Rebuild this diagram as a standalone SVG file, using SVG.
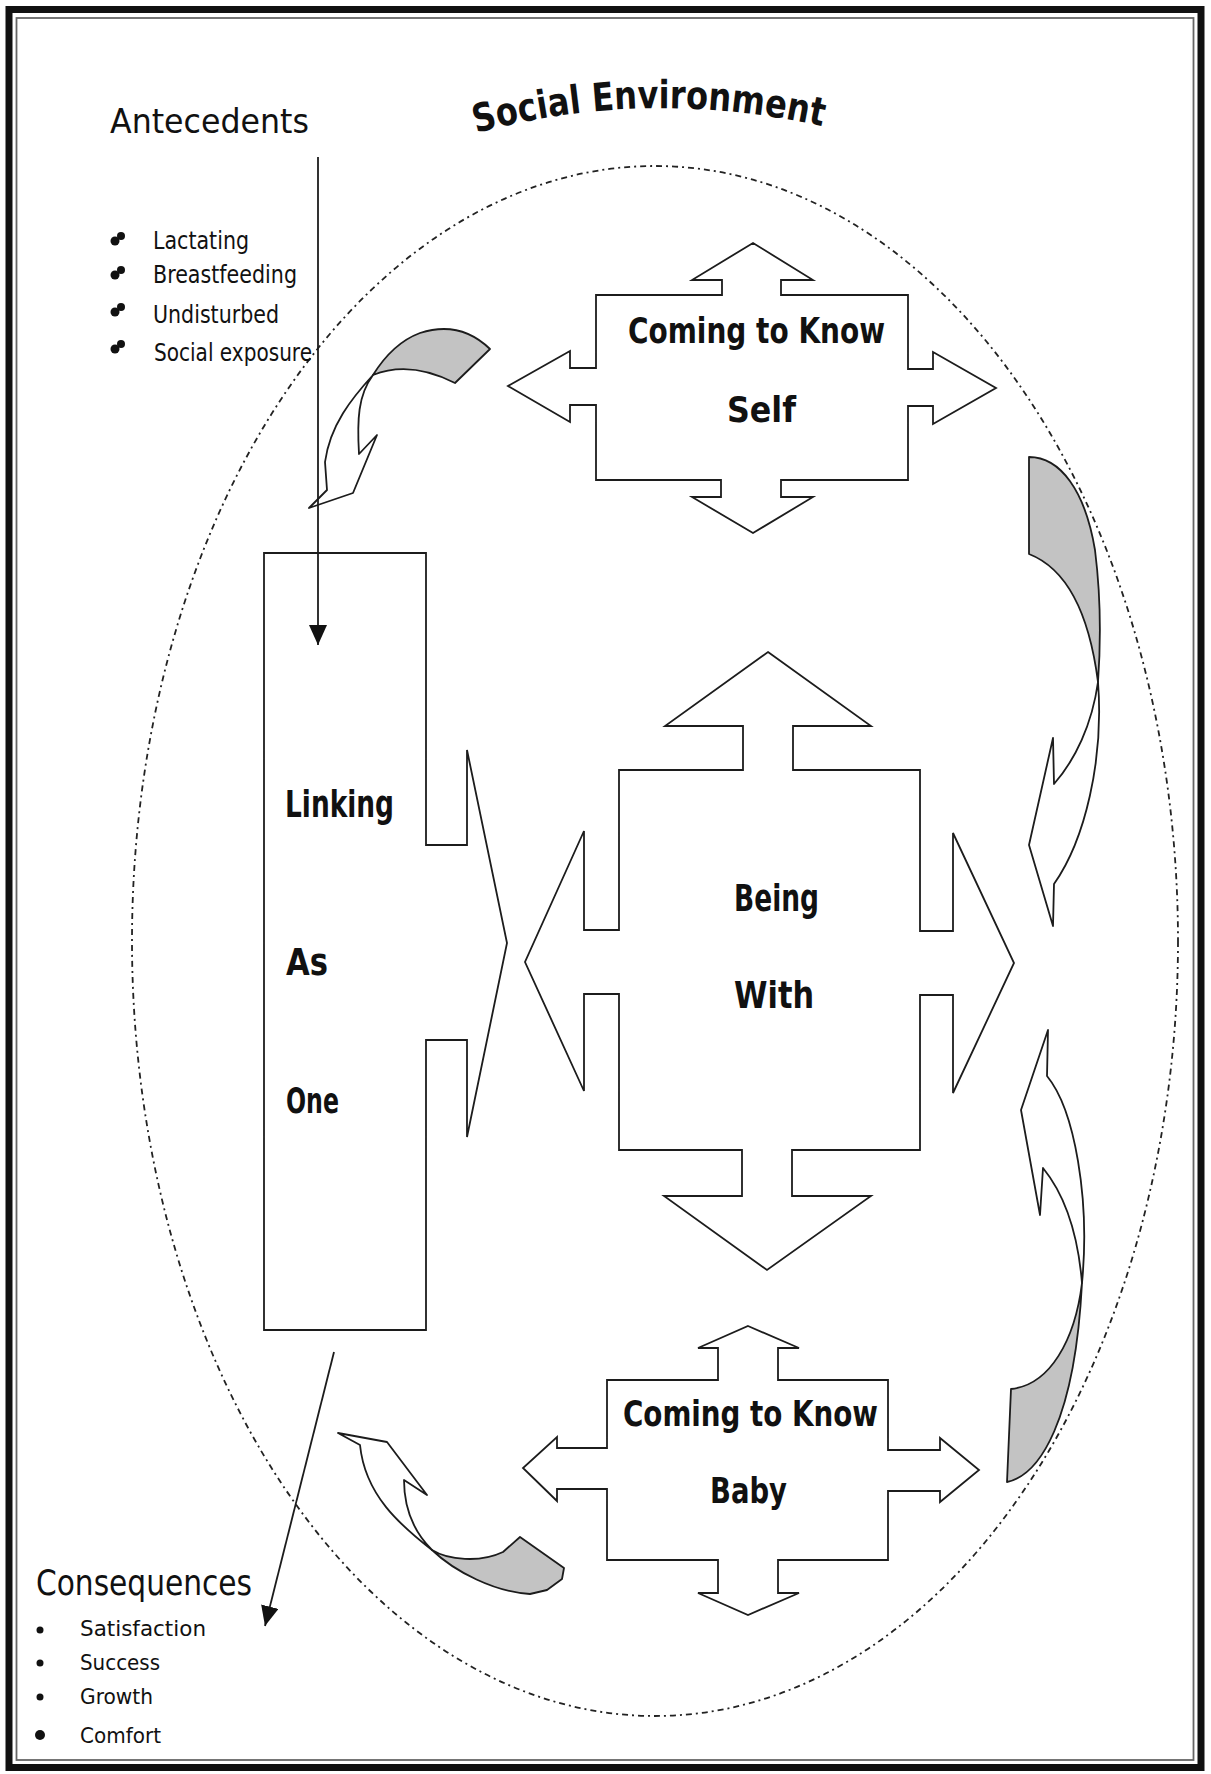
<svg xmlns="http://www.w3.org/2000/svg" width="1211" height="1774" viewBox="0 0 1211 1774">
  <defs>
    <style>
      .shape { fill: #ffffff; stroke: #1c1c1c; stroke-width: 1.8; stroke-linejoin: miter; }
      .tail { fill: #c3c3c3; stroke: #1c1c1c; stroke-width: 1.8; stroke-linejoin: round; }
      .body { fill: #ffffff; stroke: #1c1c1c; stroke-width: 1.8; stroke-linejoin: round; }
      .lbl { font-family: 'DejaVu Sans', 'Liberation Sans', sans-serif; font-weight: bold; fill: #111111; }
      .note { font-family: 'DejaVu Sans', 'Liberation Sans', sans-serif; fill: #111111; }
      .link { stroke: #1c1c1c; stroke-width: 1.8; fill: none; }
      .dot { fill: #111111; }
    </style>
    <marker id="head" viewBox="0 0 20 18" refX="20" refY="9" markerWidth="20" markerHeight="18" markerUnits="userSpaceOnUse" orient="auto">
      <path d="M0,0 L20,9 L0,18 Z" fill="#111111"/>
    </marker>
  </defs>

  <rect width="1211" height="1774" fill="#ffffff"/>

  <!-- page frame: heavy outer rule with a thin inner rule -->
  <g id="frame">
    <rect x="9" y="9.5" width="1192" height="1758" fill="none" stroke="#111111" stroke-width="7"/>
    <rect x="16.5" y="18" width="1177" height="1742" fill="none" stroke="#666666" stroke-width="1.8"/>
  </g>

  <!-- social environment boundary -->
  <g id="environment">
    <ellipse cx="655" cy="941" rx="523" ry="775" fill="none" stroke="#222222" stroke-width="1.8" stroke-dasharray="6 4 2 4"/>
    <path id="arc" d="M 476 133 Q 650 86 830 128" fill="none"/>
    <text class="lbl" font-size="39"><textPath href="#arc" textLength="350" lengthAdjust="spacingAndGlyphs">Social Environment</textPath></text>
  </g>

  <!-- antecedents list -->
  <g id="antecedents">
    <text class="note" x="110" y="133" font-size="34" textLength="199" lengthAdjust="spacingAndGlyphs">Antecedents</text>
    <g class="dot">
      <circle cx="115" cy="241" r="4.5"/><circle cx="121" cy="236" r="4"/>
      <circle cx="115" cy="275" r="4.5"/><circle cx="121" cy="270" r="4"/>
      <circle cx="115" cy="312" r="4.5"/><circle cx="121" cy="307" r="4"/>
      <circle cx="115" cy="349" r="4.5"/><circle cx="121" cy="344" r="4"/>
    </g>
    <text class="note" x="153" y="249" font-size="24" textLength="96" lengthAdjust="spacingAndGlyphs">Lactating</text>
    <text class="note" x="153" y="283" font-size="24" textLength="144" lengthAdjust="spacingAndGlyphs">Breastfeeding</text>
    <text class="note" x="153" y="323" font-size="24" textLength="126" lengthAdjust="spacingAndGlyphs">Undisturbed</text>
    <text class="note" x="154" y="361" font-size="24" textLength="158" lengthAdjust="spacingAndGlyphs">Social exposure</text>
  </g>

  <!-- consequences list -->
  <g id="consequences">
    <text class="note" x="36" y="1595" font-size="35" textLength="216" lengthAdjust="spacingAndGlyphs">Consequences</text>
    <g class="dot">
      <circle cx="40" cy="1630" r="3.5"/>
      <circle cx="40" cy="1663" r="3.5"/>
      <circle cx="40" cy="1697" r="3.5"/>
      <circle cx="40" cy="1735" r="5"/>
    </g>
    <text class="note" x="80" y="1636" font-size="22" textLength="126" lengthAdjust="spacingAndGlyphs">Satisfaction</text>
    <text class="note" x="80" y="1670" font-size="22" textLength="80" lengthAdjust="spacingAndGlyphs">Success</text>
    <text class="note" x="80" y="1704" font-size="22" textLength="73" lengthAdjust="spacingAndGlyphs">Growth</text>
    <text class="note" x="80" y="1743" font-size="22" textLength="81" lengthAdjust="spacingAndGlyphs">Comfort</text>
  </g>

  <!-- Coming to Know Self -->
  <g id="know-self">
    <polygon class="shape" points="753,243 813,280 781,280 781,295 908,295 908,369 933,369 933,352 996,388 933,424 933,406 908,406 908,480 781,480 781,497 813,497 753,533 692,497 721,497 721,480 596,480 596,405 570,405 570,422 508,386 570,351 570,368 596,368 596,295 722,295 722,280 692,280"/>
    <text class="lbl" x="628" y="343" font-size="35" textLength="257" lengthAdjust="spacingAndGlyphs">Coming to Know</text>
    <text class="lbl" x="727" y="422" font-size="36" textLength="69" lengthAdjust="spacingAndGlyphs">Self</text>
  </g>

  <!-- Being With -->
  <g id="being-with">
    <polygon class="shape" points="768,652 871,726 793,726 793,770 920,770 920,931 953,931 953,833 1014,963 953,1093 953,995 920,995 920,1150 792,1150 792,1196 871,1196 767,1270 664,1196 742,1196 742,1150 619,1150 619,994 584,994 584,1091 525,962 584,831 584,930 619,930 619,770 743,770 743,726 665,726"/>
    <text class="lbl" x="734" y="911" font-size="38" textLength="85" lengthAdjust="spacingAndGlyphs">Being</text>
    <text class="lbl" x="734" y="1008" font-size="38" textLength="80" lengthAdjust="spacingAndGlyphs">With</text>
  </g>

  <!-- Coming to Know Baby -->
  <g id="know-baby">
    <polygon class="shape" points="748,1326 799,1348 778,1348 778,1380 888,1380 888,1450 940,1450 940,1438 979,1470 940,1502 940,1491 888,1491 888,1560 778,1560 778,1593 799,1593 748,1615 698,1593 718,1593 718,1560 607,1560 607,1489 557,1489 557,1501 523,1468 557,1437 557,1448 607,1448 607,1380 718,1380 718,1348 698,1348"/>
    <text class="lbl" x="623" y="1426" font-size="35" textLength="255" lengthAdjust="spacingAndGlyphs">Coming to Know</text>
    <text class="lbl" x="710" y="1503" font-size="36" textLength="77" lengthAdjust="spacingAndGlyphs">Baby</text>
  </g>

  <!-- Linking As One -->
  <g id="linking">
    <polygon class="shape" points="264,553 426,553 426,845 467,845 467,750 507,943 467,1137 467,1040 426,1040 426,1330 264,1330"/>
    <text class="lbl" x="285" y="817" font-size="38" textLength="109" lengthAdjust="spacingAndGlyphs">Linking</text>
    <text class="lbl" x="286" y="975" font-size="37" textLength="42" lengthAdjust="spacingAndGlyphs">As</text>
    <text class="lbl" x="286" y="1113" font-size="35" textLength="53" lengthAdjust="spacingAndGlyphs">One</text>
  </g>

  <!-- connectors: curved cycle arrows and the in/out arrows -->
  <g id="connectors">
    <!-- self to linking -->
    <g id="curve-self-linking">
      <path class="tail" d="M 490 349 Q 460 320 420 333 Q 393 343 373 375 Q 410 360 455 383 Z"/>
      <path class="body" d="M 373 375 C 352 398 330 425 325 462 L 327 490 L 309 508 L 353 493 L 377 435 L 359 454 C 357 420 358 395 373 375 Z"/>
    </g>
    <!-- self to being with -->
    <g id="curve-self-being">
      <path class="tail" d="M 1029 457 C 1060 457 1085 490 1095 550 C 1100 590 1101 640 1098 682 C 1090 620 1070 570 1029 554 Z"/>
      <path class="body" d="M 1098 682 C 1104 760 1085 840 1054 884 L 1053 926 L 1029 845 L 1053 738 L 1054 784 C 1075 760 1092 725 1098 682 Z"/>
    </g>
    <!-- baby to being with -->
    <g id="curve-baby-being">
      <path class="tail" d="M 1011 1389 L 1007 1482 C 1040 1475 1075 1420 1082 1283 C 1075 1340 1050 1385 1011 1389 Z"/>
      <path class="body" d="M 1082 1283 C 1090 1200 1075 1110 1047 1076 L 1048 1030 L 1021 1110 L 1040 1215 L 1043 1168 C 1065 1195 1078 1235 1082 1283 Z"/>
    </g>
    <!-- baby to linking -->
    <g id="curve-baby-linking">
      <path class="tail" d="M 520 1537 L 564 1568 L 562 1579 L 547 1590 L 530 1594 C 495 1592 455 1572 432 1550 C 448 1560 480 1563 503 1552 Z"/>
      <path class="body" d="M 432 1550 C 400 1525 365 1495 360 1445 L 338 1433 L 387 1442 L 427 1495 L 404 1480 C 404 1505 412 1530 432 1550 Z"/>
    </g>
    <line class="link" x1="318" y1="157" x2="318" y2="645" marker-end="url(#head)"/>
    <line class="link" x1="334" y1="1352" x2="265" y2="1626" marker-end="url(#head)"/>
  </g>
</svg>
